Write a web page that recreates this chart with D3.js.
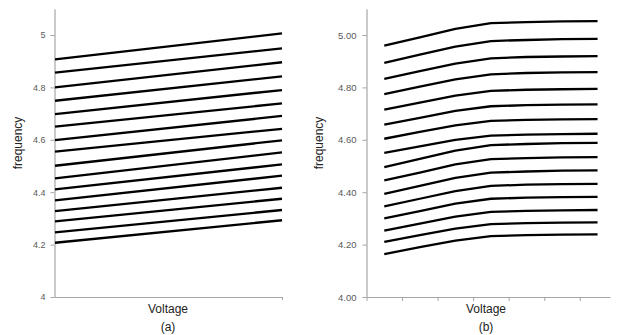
<!DOCTYPE html>
<html>
<head>
<meta charset="utf-8">
<script src="https://cdn.jsdelivr.net/npm/d3@7"></script>
<style>
  html, body { margin: 0; padding: 0; background: #fff; }
  svg { display: block; font-family: "Liberation Sans", Arial, sans-serif; }
</style>
</head>
<body>
<svg id="chart" width="620" height="335"></svg>
<script>
// ---- Data ----
// Panel (a): two voltage points per line
const voltageA = [0, 1];
const seriesA = [
  [4.907, 5.006],
  [4.856, 4.949],
  [4.800, 4.896],
  [4.749, 4.842],
  [4.698, 4.790],
  [4.650, 4.739],
  [4.599, 4.691],
  [4.555, 4.642],
  [4.501, 4.598],
  [4.453, 4.552],
  [4.411, 4.506],
  [4.369, 4.463],
  [4.328, 4.417],
  [4.289, 4.375],
  [4.247, 4.332],
  [4.207, 4.293]
];
const yTicksA = [4, 4.2, 4.4, 4.6, 4.8, 5];

// Panel (b): seven voltage categories per line
const voltageB = [0, 1, 2, 3, 4, 5, 6];
const seriesB = [
  [4.959, 4.991, 5.023, 5.045, 5.049, 5.052, 5.053],
  [4.894, 4.925, 4.956, 4.977, 4.981, 4.984, 4.985],
  [4.833, 4.862, 4.891, 4.911, 4.916, 4.918, 4.919],
  [4.774, 4.803, 4.831, 4.850, 4.855, 4.857, 4.858],
  [4.715, 4.742, 4.769, 4.787, 4.791, 4.793, 4.794],
  [4.658, 4.684, 4.710, 4.728, 4.732, 4.734, 4.735],
  [4.604, 4.630, 4.655, 4.672, 4.676, 4.678, 4.679],
  [4.550, 4.575, 4.600, 4.616, 4.620, 4.622, 4.623],
  [4.496, 4.527, 4.559, 4.580, 4.584, 4.587, 4.588],
  [4.445, 4.475, 4.506, 4.526, 4.530, 4.533, 4.534],
  [4.394, 4.424, 4.455, 4.475, 4.479, 4.482, 4.483],
  [4.346, 4.375, 4.404, 4.424, 4.429, 4.431, 4.432],
  [4.300, 4.328, 4.356, 4.375, 4.379, 4.381, 4.382],
  [4.253, 4.280, 4.307, 4.325, 4.329, 4.331, 4.332],
  [4.210, 4.236, 4.261, 4.278, 4.282, 4.284, 4.285],
  [4.164, 4.190, 4.215, 4.232, 4.236, 4.238, 4.239]
];
const yTicksB = [4, 4.2, 4.4, 4.6, 4.8, 5];
const xTicksB = [-0.5, 0.5, 1.5, 2.5, 3.5, 4.5, 5.5];

// ---- Drawing ----
const svg = d3.select("#chart");
const axisColor = "#a6a6a6";
const labelColor = "#595959";

function styleAxis(g, fontSize) {
  g.select(".domain").attr("stroke", axisColor).attr("stroke-width", 1.2);
  g.selectAll(".tick line").attr("stroke", axisColor);
  g.selectAll(".tick text").attr("fill", labelColor)
    .attr("font-size", fontSize)
    .attr("font-family", '"Liberation Sans", Arial, sans-serif');
}

// Panel (a)
const xA = d3.scaleLinear().domain([0, 1]).range([55, 282]);
const yA = d3.scaleLinear().domain([4, 5.1]).range([297, 8.8]);

const gAy = svg.append("g").attr("transform", "translate(54.5,0)")
  .call(d3.axisLeft(yA).tickValues(yTicksA).tickFormat(d3.format("~g"))
    .tickSize(4).tickSizeOuter(0).tickPadding(5));
styleAxis(gAy, 9);

const gAx = svg.append("g").attr("transform", "translate(0,297)")
  .call(d3.axisBottom(d3.scaleLinear().domain([0, 1]).range([54.5, 282]))
    .tickValues([1]).tickFormat("").tickSize(3).tickSizeOuter(0));
styleAxis(gAx, 9);

const lineA = d3.line().x((d, i) => xA(voltageA[i])).y(d => yA(d));
svg.append("g").selectAll("path").data(seriesA).join("path")
  .attr("d", lineA).attr("fill", "none").attr("stroke", "#000")
  .attr("stroke-width", 2.3).attr("stroke-linecap", "butt");

svg.append("text").attr("transform", "translate(22,143) rotate(-90)")
  .attr("text-anchor", "middle").attr("font-size", 12).attr("fill", "#222")
  .text("frequency");
svg.append("text").attr("x", 168).attr("y", 313)
  .attr("text-anchor", "middle").attr("font-size", 12).attr("fill", "#222")
  .text("Voltage");
svg.append("text").attr("x", 168).attr("y", 331)
  .attr("text-anchor", "middle").attr("font-size", 12).attr("fill", "#222")
  .text("(a)");

// Panel (b)
const xB = d3.scaleLinear().domain([-0.5, 6.35]).range([366.5, 610]);
const yB = d3.scaleLinear().domain([4, 5.1]).range([297, 8.8]);

const gBy = svg.append("g").attr("transform", "translate(366.5,0)")
  .call(d3.axisLeft(yB).tickValues(yTicksB).tickFormat(d3.format(".2f"))
    .tickSize(4).tickSizeOuter(0).tickPadding(6));
styleAxis(gBy, 9.5);

const gBx = svg.append("g").attr("transform", "translate(0,297)")
  .call(d3.axisBottom(xB).tickValues(xTicksB).tickFormat("")
    .tickSize(4).tickSizeOuter(0));
styleAxis(gBx, 9.5);

const lineB = d3.line().x((d, i) => xB(voltageB[i])).y(d => yB(d));
svg.append("g").selectAll("path").data(seriesB).join("path")
  .attr("d", lineB).attr("fill", "none").attr("stroke", "#000")
  .attr("stroke-width", 2.3).attr("stroke-linejoin", "round");

svg.append("text").attr("transform", "translate(323,143) rotate(-90)")
  .attr("text-anchor", "middle").attr("font-size", 12).attr("fill", "#222")
  .text("frequency");
svg.append("text").attr("x", 486).attr("y", 313)
  .attr("text-anchor", "middle").attr("font-size", 12).attr("fill", "#222")
  .text("Voltage");
svg.append("text").attr("x", 486).attr("y", 331)
  .attr("text-anchor", "middle").attr("font-size", 12).attr("fill", "#222")
  .text("(b)");
</script>
</body>
</html>
